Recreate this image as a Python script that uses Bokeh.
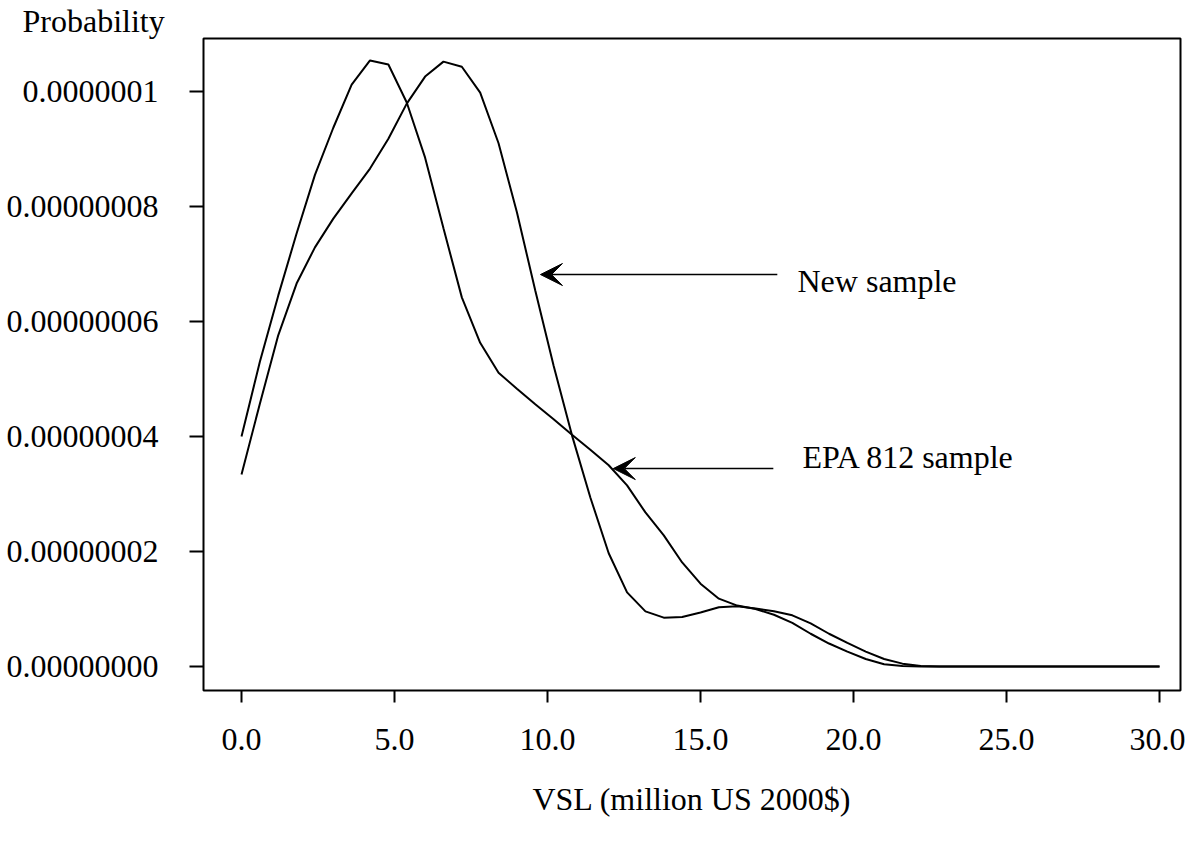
from bokeh.plotting import figure
from bokeh.models import Range1d, FixedTicker, CustomJSTickFormatter, Arrow, VeeHead, Label, Title
from bokeh.embed import file_html
from bokeh.resources import INLINE

# VSL grid (million US 2000$)
vsl = [0.0, 0.6, 1.2, 1.8, 2.4, 3.0, 3.6, 4.2, 4.8, 5.4, 6.0, 6.6, 7.2, 7.8, 8.4,
       9.0, 9.6, 10.2, 10.8, 11.4, 12.0, 12.6, 13.2, 13.8, 14.4, 15.0, 15.6, 16.2,
       16.8, 17.4, 18.0, 18.6, 19.2, 19.8, 20.4, 21.0, 21.6, 22.2, 22.8, 23.4, 24.0,
       24.6, 25.2, 25.8, 26.4, 27.0, 27.6, 28.2, 28.8, 29.4, 30.0]

# probability density (in units of 1e-8)
epa_812 = [4.00, 5.30, 6.45, 7.53, 8.55, 9.37, 10.12, 10.54, 10.47, 9.81, 8.85, 7.62,
           6.42, 5.63, 5.11, 4.83, 4.56, 4.30, 4.03, 3.77, 3.50, 3.15, 2.68, 2.28,
           1.81, 1.44, 1.18, 1.06, 1.00, 0.90, 0.76, 0.57, 0.40, 0.26, 0.13, 0.04,
           0.01, 0.0, 0.0, 0.0, 0.0, 0.0, 0.0, 0.0, 0.0, 0.0, 0.0, 0.0, 0.0, 0.0, 0.0]
new_sample = [3.34, 4.57, 5.76, 6.66, 7.29, 7.79, 8.23, 8.66, 9.18, 9.79, 10.26, 10.52,
              10.43, 9.98, 9.10, 7.90, 6.54, 5.23, 4.02, 2.94, 1.97, 1.29, 0.96, 0.85,
              0.86, 0.94, 1.03, 1.05, 1.01, 0.96, 0.89, 0.75, 0.57, 0.41, 0.26, 0.13,
              0.05, 0.01, 0.0, 0.0, 0.0, 0.0, 0.0, 0.0, 0.0, 0.0, 0.0, 0.0, 0.0, 0.0, 0.0]

x_ticks = [0, 5, 10, 15, 20, 25, 30]
y_ticks = [0.0, 2e-8, 4e-8, 6e-8, 8e-8, 1e-7]

epa_y = [v * 1e-8 for v in epa_812]
new_y = [v * 1e-8 for v in new_sample]

FONT = "Liberation Serif"
FS = "32px"

p = figure(frame_width=977, frame_height=652, output_backend="svg", toolbar_location=None,
           x_range=Range1d(-1.242, 30.686), y_range=Range1d(-4.17e-9, 1.0922e-7),
           min_border_left=203, min_border_right=5, min_border_top=38,
           min_border_bottom=140, background_fill_color="white",
           border_fill_color="white")
p.grid.visible = False
p.outline_line_color = "black"
p.outline_line_width = 2

p.line(vsl, epa_y, line_color="black", line_width=2)
p.line(vsl, new_y, line_color="black", line_width=2)

xa = p.xaxis[0]
xa.ticker = FixedTicker(ticks=x_ticks, minor_ticks=[])
xa.formatter = CustomJSTickFormatter(code="return tick.toFixed(1);")
xa.axis_line_color = None
xa.major_tick_in = 0
xa.major_tick_out = 12
xa.major_tick_line_width = 2
xa.major_tick_line_color = "black"
xa.minor_tick_line_color = None
xa.major_label_standoff = 26
xa.major_label_text_font = FONT
xa.major_label_text_font_size = FS
xa.major_label_text_color = "black"
xa.axis_label = "VSL (million US 2000$)"
xa.axis_label_text_font = FONT
xa.axis_label_text_font_size = FS
xa.axis_label_text_font_style = "normal"
xa.axis_label_text_color = "black"
xa.axis_label_standoff = 28

ya = p.yaxis[0]
ya.ticker = FixedTicker(ticks=y_ticks, minor_ticks=[])
ya.formatter = CustomJSTickFormatter(
    code="if (Math.abs(tick - 1e-7) < 1e-12) { return '0.0000001'; } return tick.toFixed(8);")
ya.axis_line_color = None
ya.major_tick_in = 0
ya.major_tick_out = 14
ya.major_tick_line_width = 2
ya.major_tick_line_color = "black"
ya.minor_tick_line_color = None
ya.major_label_standoff = 31
ya.major_label_text_font = FONT
ya.major_label_text_font_size = FS
ya.major_label_text_color = "black"

# y-axis caption placed above the frame, at the top left
p.add_layout(Title(text="Probability", align="left", offset=-181, standoff=0,
                   text_font=FONT, text_font_size=FS, text_font_style="normal",
                   text_color="black", vertical_align="bottom"), "above")

p.add_layout(Arrow(end=VeeHead(size=22, fill_color="black", line_color="black", line_width=1),
                   x_start=17.51, y_start=6.817e-8, x_end=9.77, y_end=6.817e-8,
                   line_color="black", line_width=1.5))
p.add_layout(Arrow(end=VeeHead(size=22, fill_color="black", line_color="black", line_width=1),
                   x_start=17.38, y_start=3.443e-8, x_end=12.15, y_end=3.443e-8,
                   line_color="black", line_width=1.5))
p.add_layout(Label(x=18.17, y=6.70e-8, text="New sample", text_font=FONT,
                   text_font_size=FS, text_color="black", text_baseline="alphabetic"))
p.add_layout(Label(x=18.33, y=3.65e-8, text="EPA 812 sample", text_font=FONT,
                   text_font_size=FS, text_color="black", text_baseline="alphabetic"))

open("out.html", "w").write(file_html(p, INLINE))
